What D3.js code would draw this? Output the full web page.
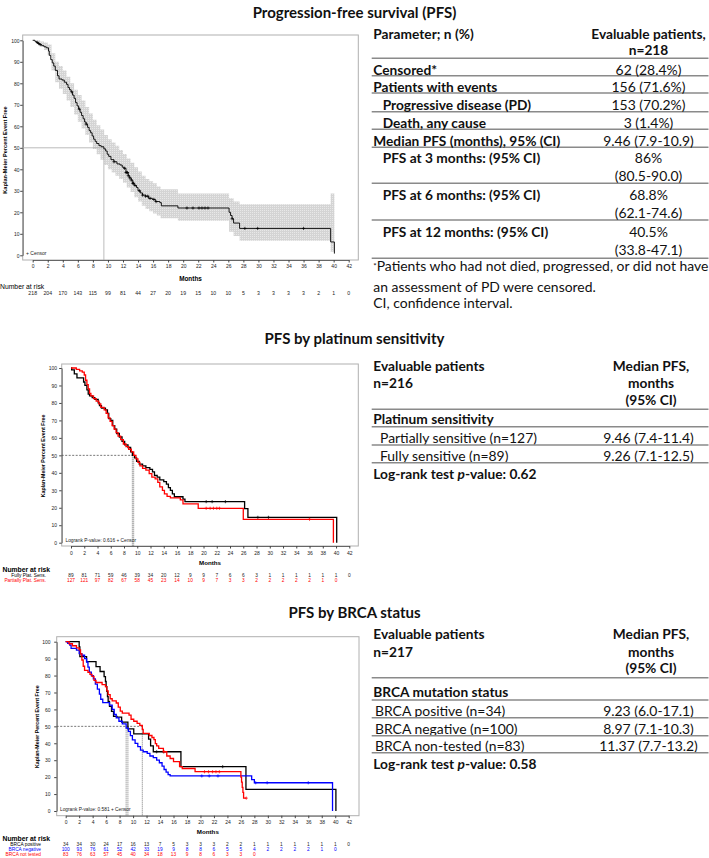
<!DOCTYPE html>
<html><head><meta charset="utf-8">
<script src="https://cdn.jsdelivr.net/npm/d3@7/dist/d3.min.js"></script>
<style>body{margin:0;background:#fff}svg{display:block}</style>
</head><body><svg id="c" width="709" height="858"></svg>
<script>
// ---------------- DATA ----------------
const monthTicks = [0,2,4,6,8,10,12,14,16,18,20,22,24,26,28,30,32,34,36,38,40,42];
const pctTicks = [0,10,20,30,40,50,60,70,80,90,100];

// Overall PFS (steps: time, survival %)
const pfsTime = [0,0.3,0.5,0.7,0.9,1.2,1.5,1.8,2.1,2.2,2.4,2.6,2.8,3.0,3.3,3.5,3.9,4.2,4.5,4.7,4.9,5.1,5.3,5.5,5.7,5.9,6.1,6.3,6.5,6.7,6.9,7.1,7.3,7.5,7.7,7.9,8.1,8.3,8.5,8.8,9.1,9.46,9.7,9.9,10.1,10.4,10.8,11.2,11.6,11.9,12.1,12.4,12.7,12.9,13.1,13.3,13.5,13.8,14.0,14.3,14.6,15.0,15.4,15.9,16.3,16.9,17.1,19.3,26.1,26.3,26.5,26.7,27.5,39.6,40.1];
const pfsSurv = [100,99.5,99,98.5,98,97.5,97,96.5,95,93,91,89.5,88,86,83.5,82,81.5,80.5,79.5,78,77,76,74.5,73,71,69.5,68,66.5,65,63.5,62,61,59.5,58,57,55.5,54,53,52,51,50.5,49.5,48.5,47,46,44.5,43.5,42.5,42,41,40.5,38.5,37,36,35,33.5,32.5,31.5,30,29,28,27.5,26.5,26,25,24.5,23,22,20,18.5,17,15,12.5,6.2,0.8];
const pfsCiTime  = [0,0.5,1,1.5,2,2.5,3,3.5,4,4.5,5,5.5,6,6.5,7,7.5,8,8.5,9,9.5,10,10.5,11,11.5,12,12.5,13,13.5,14,14.5,15,15.5,16,16.5,17,19.3,26.1,26.7,27.5,39.6,40.1];
const pfsCiUpper = [100,100,99.5,99,98,94,90,88,86,83,80,77,74.6,72,69,66,63,60.5,58.5,56,54,52.5,51,49,47.1,45,43,41,39,37,35.5,34.5,33.5,32,30.7,28.8,26.5,25,23.7,28.8,28.8];
const pfsCiLower = [100,98.5,97,95.5,93,86,80.5,77.5,75,72,69,65.5,62.1,59,56,52.5,49.5,47,44.5,42,40,38.5,37,35.5,33.8,31.5,29.5,27,25,23,21.5,20.5,19.5,18.5,17.2,16.1,11,9,6.8,1.7,1.7];
const pfsCensor = [0.6,0.8,1.0,5.2,6.2,7.1,10.8,12.2,12.4,12.5,12.6,12.7,12.9,13.1,13.3,13.4,13.6,14.2,14.6,15.0,15.3,15.6,16.1,16.4,20.5,21.3,22.1,22.5,22.9,23.3,26.5,28.2,29.9,36.0];
const pfsMedian = [9.46];
const pfsAtRisk = [218,204,170,143,115,99,81,44,27,20,19,15,10,10,5,3,3,3,3,2,1,0];

// Platinum sensitivity
const fullyTime = [0,0.1,0.5,0.9,1.9,2.1,2.4,2.6,2.8,3.2,3.6,4.1,4.3,4.6,5.2,5.5,5.7,6.0,6.3,6.6,6.9,7.3,7.7,8.1,8.6,9.0,9.26,9.6,9.9,10.3,10.8,11.3,11.9,12.3,12.6,13.0,13.4,14.0,14.4,14.7,15.0,15.3,15.6,16.9,17.2,26.2,26.7,40.1];
const fullySurv = [100,98.9,96.6,94.4,92,90,87.5,85,84,83,82,80,78.5,77,76,74,71,70,67,65,62.5,60.5,58,56,54.5,52,50,48.5,46.5,45,44,43,42,40.5,38.5,37.5,36,35,33.5,31.5,30,28,26.3,25,23.5,19.5,14.5,0];
const partTime = [0,0.8,1.3,1.7,2.0,2.2,2.4,2.6,2.8,3.0,3.4,3.8,4.2,4.5,5.0,5.3,5.6,5.9,6.2,6.5,6.8,7.1,7.5,7.9,8.3,8.7,9.1,9.46,9.8,10.1,10.4,10.8,11.3,11.8,12.2,12.7,13.1,13.4,13.8,14.1,14.5,15.0,16.5,16.9,19.2,26.0,39.6];
const partSurv = [100,99.2,98.4,97.6,96,93,90.5,88,85.5,84,82.5,81,79.5,77.5,76,74,71.5,69.5,67,65,63,61,59,56.5,55,53.5,52,50,48,46,44,42.5,41.5,39.5,37.5,36.5,34.5,32,30,28,26.5,25.7,24.5,22.2,19.7,13.4,0];
const fullyCensor = [20.4,21.3,23.3,28.2,29.8];
const partCensor = [20.4,21.0,21.5,22.0,22.4,36.0];
const platMedians = [9.26,9.46];
const fullyAtRisk = [89,81,71,59,46,39,34,20,12,9,9,7,6,6,3,1,1,1,1,1,1,0];
const partAtRisk = [127,121,97,82,67,58,45,23,14,10,9,7,3,3,2,2,2,2,2,1,0];

// BRCA status
const posTime = [0,2.0,2.1,3.1,4.5,5.1,5.7,5.9,6.0,6.1,6.2,6.3,6.5,6.8,7.1,7.6,8.3,9.23,10.1,12.3,12.6,13.0,17.1,26.75,40.1];
const posSurv = [100,97,91.2,88.2,85.3,82.4,79.4,76.5,73.5,70.6,67.6,64.7,61.8,58.8,55.9,55.5,52.5,48.5,45.5,42.5,38.5,35,26.2,12.8,0];
const negTime = [0,0.3,0.6,0.8,1.6,2.0,2.4,2.8,3.1,3.3,3.5,3.8,4.1,4.4,4.7,5.0,5.2,5.5,6.5,6.9,7.2,7.5,7.9,8.4,8.97,9.3,9.6,9.9,10.3,10.7,11.1,11.5,12.1,12.5,13.0,13.5,13.9,14.3,14.6,14.9,15.2,15.5,27.6,28.0,39.6];
const negSurv = [100,99,98,96,95,93,92,90,88,85,82,80,78,75,72,69,66,64,62.5,60,57,55,53,51.5,49,47,44.5,42,40,38,36,35,34,32.5,31.5,30,28.5,26.5,24.5,23,21.5,20.7,18.5,16.7,0];
const ntTime = [0,0.5,1.0,1.6,2.0,2.2,2.4,2.6,2.8,3.3,3.6,3.9,4.2,4.5,5.4,5.9,6.1,6.3,6.6,6.9,7.5,7.8,8.1,8.4,9.4,9.7,10.1,10.6,11.0,11.37,11.5,12.4,12.8,13.1,13.3,13.5,13.8,14.5,15.0,15.5,16.0,16.9,17.3,19.2,26.0,26.1,26.2,26.3,26.4,26.8];
const ntSurv = [100,98.8,97.6,96.4,95.2,92.8,89.2,85.5,83.1,81.9,80.7,79.5,77.1,75.9,74.7,73.5,71,68.7,66.3,65,63.8,61.4,59,57.8,56.6,54.2,53,51.8,50.6,48.2,45.8,44.6,43.4,42.2,39.8,38.5,37,35,32.5,31,29.2,26.2,25.1,23.2,20,17,14,11,7.6,7.6];
const posCensor = [13.5,14.5,23.3];
const negCensor = [20.2,21.3,22.6,28.2,29.9,36.0];
const ntCensor = [14.6,20.6,21.2,21.8,22.3,22.8,26.8];
const brcaMedians = [8.97,9.23,11.37];
const posAtRisk = [34,34,30,24,17,16,13,7,5,3,3,3,2,2,1,1,1,1,1,1,1,0];
const negAtRisk = [100,93,76,61,52,42,33,19,9,8,8,6,5,5,4,2,2,2,2,1,0];
const ntAtRisk = [83,76,63,57,45,40,34,18,13,9,8,6,3,3,0];

// Tables
const titles = ["Progression-free survival (PFS)","PFS by platinum sensitivity","PFS by BRCA status"];
const pfsHeader = ["Parameter; n (%)","Evaluable patients,","n=218"];
const pfsRowLabels = ["Censored*","Patients with events","Progressive disease (PD)","Death, any cause","Median PFS (months), 95% (CI)","PFS at 3 months: (95% CI)","PFS at 6 months: (95% CI)","PFS at 12 months: (95% CI)"];
const pfsRowValues = [["62 (28.4%)"],["156 (71.6%)"],["153 (70.2%)"],["3 (1.4%)"],["9.46 (7.9-10.9)"],["86%","(80.5-90.0)"],["68.8%","(62.1-74.6)"],["40.5%","(33.8-47.1)"]];
const pfsRowIndent = [0,0,1,1,0,1,1,1];
const pfsFootnote = ["Patients who had not died, progressed, or did not have","an assessment of PD were censored.","CI, confidence interval."];
const platHeader = [["Evaluable patients","n=216"],["Median PFS,","months","(95% CI)"]];
const platGroup = "Platinum sensitivity";
const platRows = [["Partially sensitive (n=127)","9.46 (7.4-11.4)"],["Fully sensitive (n=89)","9.26 (7.1-12.5)"]];
const platLogrank = "0.62";
const brcaHeader = [["Evaluable patients","n=217"],["Median PFS,","months","(95% CI)"]];
const brcaGroup = "BRCA mutation status";
const brcaRows = [["BRCA positive (n=34)","9.23 (6.0-17.1)"],["BRCA negative (n=100)","8.97 (7.1-10.3)"],["BRCA non-tested (n=83)","11.37 (7.7-13.2)"]];
const brcaLogrank = "0.58";

// ---------------- DRAW ----------------
const svg = d3.select("#c");
const CF = "'Liberation Sans', Arial, sans-serif";
const TF = "Lato, 'Open Sans', sans-serif";

const defs = svg.append("defs");
const pat = defs.append("pattern").attr("id","hatch").attr("patternUnits","userSpaceOnUse").attr("width",2).attr("height",2);
pat.append("rect").attr("width",2).attr("height",2).attr("fill","#d4d4d4");
pat.append("rect").attr("width",1).attr("height",1).attr("fill","#e8e8e8");

function steps(times, surv){ return times.map((t,i)=>({t, s:surv[i]})); }
function survAt(times, surv, t){ let v=surv[0]; for(let i=0;i<times.length;i++){ if(times[i]<=t) v=surv[i]; } return v; }

function drawKM(cfg){
  const g = svg.append("g");
  const x = d3.scaleLinear().domain([0,42]).range([cfg.x0,cfg.x42]);
  const y = d3.scaleLinear().domain([0,100]).range([cfg.y0,cfg.y100]);
  g.append("rect").attr("x",cfg.fx0).attr("y",cfg.fy0).attr("width",cfg.fx1-cfg.fx0).attr("height",cfg.fy1-cfg.fy0)
    .attr("fill","none").attr("stroke","#b0b0b0").attr("stroke-width",1);
  const xa = g.append("g").attr("transform",`translate(0,${cfg.fy1})`)
    .call(d3.axisBottom(x).tickValues(monthTicks).tickSize(2.5).tickSizeOuter(0));
  xa.select(".domain").attr("stroke","#666");
  xa.selectAll(".tick line").attr("stroke","#444");
  xa.selectAll("text").attr("y",cfg.tickLabelY-cfg.fy1).attr("dy","0.35em").attr("font-size",cfg.tickFs).attr("font-family",CF).attr("fill","#222");
  const ya = g.append("g").attr("transform",`translate(${cfg.fx0},0)`)
    .call(d3.axisLeft(y).tickValues(pctTicks).tickSize(2.5).tickSizeOuter(0));
  ya.select(".domain").attr("stroke","#666");
  ya.selectAll(".tick line").attr("stroke","#444");
  ya.selectAll("text").attr("x",cfg.yTickX-cfg.fx0).attr("dy","0.35em").attr("font-size",cfg.tickFs).attr("font-family",CF).attr("fill","#222");
  g.append("text").attr("transform",`translate(${cfg.yLabX},${cfg.yLabY}) rotate(-90)`).attr("text-anchor","middle")
    .attr("dy","0.35em").attr("font-family",CF).attr("font-weight","bold").attr("font-size",cfg.yLabFs).text("Kaplan-Meier Percent Event Free");
  g.append("text").attr("x",(cfg.fx0+cfg.fx1)/2).attr("y",cfg.monthsY).attr("dy","0.35em").attr("text-anchor","middle")
    .attr("font-family",CF).attr("font-weight","bold").attr("font-size",cfg.monthsFs).text("Months");
  if(cfg.ci){
    const ci = cfg.ci.t.map((t,i)=>({t,lo:cfg.ci.lo[i],hi:cfg.ci.hi[i]}));
    g.append("path").datum(ci).attr("d",d3.area().curve(d3.curveStepAfter).x(d=>x(d.t)).y0(d=>y(d.lo)).y1(d=>y(d.hi)))
      .attr("fill","url(#hatch)").attr("stroke","none");
  }
  const mMax = d3.max(cfg.medians);
  g.append("line").attr("x1",cfg.fx0).attr("x2",x(mMax)).attr("y1",y(50)).attr("y2",y(50))
    .attr("stroke",cfg.medColor).attr("stroke-width",cfg.medW).attr("stroke-dasharray",cfg.medDash);
  cfg.medians.forEach(m=>{
    g.append("line").attr("x1",x(m)).attr("x2",x(m)).attr("y1",y(50)).attr("y2",cfg.fy1)
      .attr("stroke",cfg.medColor).attr("stroke-width",cfg.medW).attr("stroke-dasharray",cfg.medDashV||cfg.medDash);
  });
  const line = d3.line().curve(d3.curveStepAfter).x(d=>x(d.t)).y(d=>y(d.s));
  cfg.series.forEach(s=>{
    g.append("path").datum(steps(s.t,s.s)).attr("d",line).attr("fill","none").attr("stroke",s.color).attr("stroke-width",cfg.lw);
    s.censor.forEach(c=>{
      const cx=x(c), cy=y(survAt(s.t,s.s,c));
      g.append("path").attr("d",`M${cx-1.6},${cy}h3.2M${cx},${cy-1.6}v3.2`).attr("stroke",s.color).attr("stroke-width",0.7);
    });
  });
  g.append("text").attr("x",cfg.legX).attr("y",cfg.legY).attr("dy","0.35em").attr("font-family",CF).attr("font-size",cfg.legFs).attr("fill","#222")
    .text(cfg.legText);
  g.append("text").attr("x",cfg.narX).attr("y",cfg.narY).attr("dy","0.35em").attr("font-family",CF).attr("font-size",cfg.narFs)
    .attr("font-weight",cfg.narBold?"bold":"normal").text("Number at risk");
  cfg.series.forEach((s,k)=>{
    if(s.label){
      g.append("text").attr("x",cfg.rowLabX).attr("y",cfg.rowY[k]).attr("dy","0.35em").attr("text-anchor","end")
        .attr("font-family",CF).attr("font-size",cfg.rowFs).attr("fill",s.color).text(s.label);
    }
    g.selectAll(null).data(s.atRisk).enter().append("text").attr("x",(d,i)=>x(monthTicks[i])).attr("y",cfg.rowY[k]).attr("dy","0.35em")
      .attr("text-anchor","middle").attr("font-family",CF).attr("font-size",cfg.rowFs).attr("fill",s.color==="#000"?"#222":s.color).text(d=>d);
  });
}

drawKM({x0:32.7,x42:348.7,y0:255.3,y100:40.3,fx0:22.7,fy0:35,fx1:358.3,fy1:260,
  tickLabelY:266,yTickX:19.5,tickFs:5,yLabX:5,yLabY:150,yLabFs:5.6,monthsY:279,monthsFs:6.4,
  ci:{t:pfsCiTime,lo:pfsCiLower,hi:pfsCiUpper},medians:pfsMedian,medColor:"#aaa",medW:0.8,medDash:null,
  lw:0.9,series:[{t:pfsTime,s:pfsSurv,color:"#000",censor:pfsCensor,atRisk:pfsAtRisk}],
  legX:26,legY:253.3,legFs:5,legText:"+ Censor",narX:0,narY:287,narFs:6.8,narBold:false,rowLabX:0,rowY:[293],rowFs:5.2});

drawKM({x0:71,x42:349.3,y0:542.7,y100:368,fx0:61.7,fy0:364,fx1:358.3,fy1:546,
  tickLabelY:553.7,yTickX:57,tickFs:5,yLabX:42.7,yLabY:456,yLabFs:5.3,monthsY:563,monthsFs:6.2,
  ci:null,medians:platMedians,medColor:"#555",medW:0.8,medDash:"2,1.5",medDashV:"1,1",
  lw:1.3,series:[{t:fullyTime,s:fullySurv,color:"#000",censor:fullyCensor,atRisk:fullyAtRisk,label:"Fully Plat. Sens."},
                 {t:partTime,s:partSurv,color:"#f00",censor:partCensor,atRisk:partAtRisk,label:"Partially Plat. Sens."}],
  legX:65.5,legY:540.5,legFs:4.8,legText:"Logrank P-value: 0.616  +  Censor",narX:2.5,narY:570,narFs:6.8,narBold:true,rowLabX:46,rowY:[575.7,580.7],rowFs:4.8});

drawKM({x0:65.7,x42:348.7,y0:811,y100:641.7,fx0:56.7,fy0:636.7,fx1:359,fy1:815.7,
  tickLabelY:822.3,yTickX:50.5,tickFs:5,yLabX:37.3,yLabY:726.7,yLabFs:5.3,monthsY:832.3,monthsFs:6.2,
  ci:null,medians:brcaMedians,medColor:"#555",medW:0.8,medDash:"2,1.5",medDashV:"1,1",
  lw:1.3,series:[{t:posTime,s:posSurv,color:"#000",censor:posCensor,atRisk:posAtRisk,label:"BRCA positive"},
                 {t:negTime,s:negSurv,color:"#00f",censor:negCensor,atRisk:negAtRisk,label:"BRCA negative"},
                 {t:ntTime,s:ntSurv,color:"#f00",censor:ntCensor,atRisk:ntAtRisk,label:"BRCA not tested"}],
  legX:60,legY:809.3,legFs:4.8,legText:"Logrank P-value: 0.581  +  Censor",narX:2.5,narY:838.3,narFs:6.8,narBold:true,rowLabX:41,rowY:[844,849,854.3],rowFs:4.8});

// ---------------- TABLES ----------------
function measure(str, bold, fs){
  const t = svg.append("text").attr("font-family",TF).attr("font-size",fs).attr("font-weight",bold?"bold":"normal").text(str);
  const w = t.node().getComputedTextLength(); t.remove(); return w;
}
const BFS = Math.min(14.6, 12.5*187/measure("Median PFS (months), 95% (CI)",true,12.5));
const RFS = Math.min(14.6, 12.5*332/measure("Patients who had not died, progressed, or did not have",false,12.5));

function ttext(x,y,str,opts={}){
  return svg.append("text").attr("x",x).attr("y",y).attr("dy","0.35em").attr("font-family",TF).attr("font-size",opts.bold?BFS:RFS)
    .attr("font-weight",opts.bold?"bold":"normal").attr("text-anchor",opts.anchor||"start").attr("fill","#111").text(str);
}
function hline(y){ svg.append("line").attr("x1",371.7).attr("x2",708.5).attr("y1",y).attr("y2",y).attr("stroke","#8a8a8a").attr("stroke-width",1.5); }

[13,339,613].forEach((yy,i)=>{
  svg.append("text").attr("x",354.5).attr("y",yy).attr("dy","0.35em").attr("text-anchor","middle").attr("font-family",TF)
    .attr("font-weight","bold").attr("font-size",15).attr("fill","#111").text(titles[i]);
});

const VC = 648.5;
ttext(373.3,34,pfsHeader[0],{bold:true});
ttext(VC,34,pfsHeader[1],{bold:true,anchor:"middle"});
ttext(VC,50.5,pfsHeader[2],{bold:true,anchor:"middle"});
const pfsRowY = [70,86.7,105,123.3,141,158.3,195,231.7];
const pfsLineY = [58.3,75.7,93,111.7,129.3,147.3,183.3,220,258.3];
pfsLineY.forEach(hline);
pfsRowLabels.forEach((l,i)=>{
  ttext(pfsRowIndent[i]?382.7:373.3,pfsRowY[i],l,{bold:true});
  pfsRowValues[i].forEach((v,j)=>ttext(VC,pfsRowY[i]+j*18.3,v,{anchor:"middle"}));
});
const fn = ttext(373.3,270,"",{});
fn.append("tspan").attr("font-size",8).attr("dy","-0.1em").text("*");
fn.append("tspan").attr("dy","0.1em").text(pfsFootnote[0]);
ttext(373.3,286.7,pfsFootnote[1]);
ttext(373.3,303.3,pfsFootnote[2]);

function groupTable(header, group, rows, logrank, Y){
  ttext(373.3,Y.h[0],header[0][0],{bold:true});
  ttext(373.3,Y.h[1],header[0][1],{bold:true});
  header[1].forEach((h,i)=>ttext(651,Y.h[i],h,{bold:true,anchor:"middle"}));
  hline(Y.l[0]);
  ttext(373.3,Y.g,group,{bold:true});
  hline(Y.l[1]);
  rows.forEach((r,i)=>{
    ttext(Y.ind,Y.r[i],r[0]);
    ttext(VC,Y.r[i],r[1],{anchor:"middle"});
    hline(Y.l[i+2]);
  });
  const t = ttext(373.3,Y.lr,"",{bold:true});
  t.append("tspan").text("Log-rank test ");
  t.append("tspan").attr("font-style","italic").text("p");
  t.append("tspan").text("-value: "+logrank);
}
groupTable(platHeader,platGroup,platRows,platLogrank,{h:[366.5,383.3,400],l:[409.3,426.7,445,462.7],g:419.3,r:[438.3,456],lr:474,ind:380});
groupTable(brcaHeader,brcaGroup,brcaRows,brcaLogrank,{h:[634.5,651.7,668.5],l:[677.7,700,717.7,735.7,752.7],g:691.7,r:[710.7,728.7,746],lr:764,ind:375});
</script></body></html>
